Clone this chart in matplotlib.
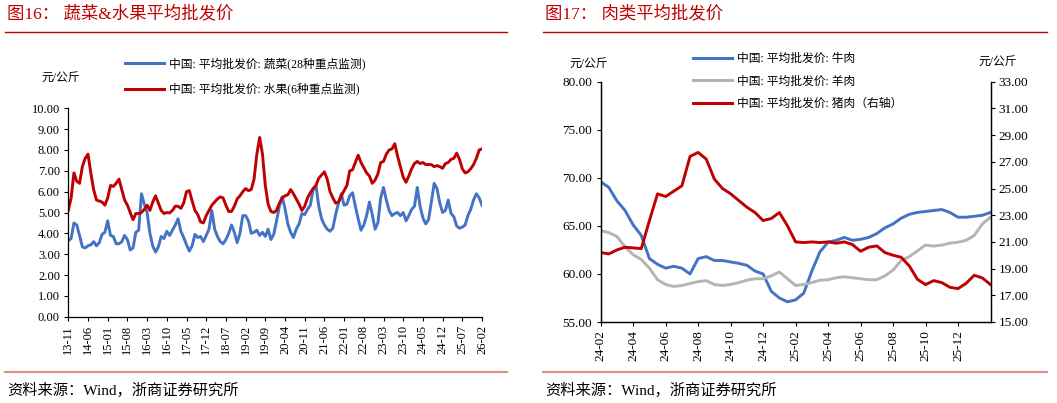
import matplotlib as mpl

mpl.use("Agg")
import matplotlib.pyplot as plt
import numpy as np
from matplotlib.lines import Line2D

plt.rcParams["font.family"] = ["Liberation Serif", "Noto Sans CJK SC"]
plt.rcParams["axes.unicode_minus"] = False

RED, BLUE, GREY = "#C00000", "#4472C4", "#B4B4B4"
RULE_TOP, RULE_BOT = "#C00000", "#E38A8A"

# ---- 图16: monthly readings from 2013-11 to 2026-02 (yuan/kg)
VEG = [3.65, 3.75, 4.5, 4.4, 3.9, 3.35, 3.3, 3.4, 3.45, 3.6, 3.4, 3.55, 3.95, 4.05, 4.6, 3.9, 3.85, 3.5,
       3.5, 3.6, 3.9, 3.7, 3.2, 3.3, 4.05, 4.15, 5.9, 5.4, 5.0, 4.0, 3.4, 3.1, 3.35, 3.85, 3.75, 4.1,
       3.9, 4.15, 4.4, 4.7, 4.1, 3.8, 3.45, 3.15, 3.4, 3.95, 3.8, 3.85, 3.6, 3.9, 4.2, 5.1, 4.2, 3.85,
       3.6, 3.5, 3.7, 4.0, 4.4, 4.05, 3.55, 4.0, 4.85, 4.85, 4.6, 4.0, 4.05, 4.15, 3.9, 4.05, 3.85, 4.2,
       3.7, 3.95, 4.6, 5.3, 5.75, 5.2, 4.45, 4.05, 3.8, 4.2, 4.45, 4.95, 4.9, 5.15, 5.35, 6.1, 6.3, 5.3,
       4.7, 4.4, 4.2, 4.1, 4.25, 4.9, 5.45, 5.9, 5.35, 5.4, 5.8, 5.95, 5.3, 4.7, 4.15, 4.4, 4.85, 5.5,
       4.9, 4.2, 4.5, 5.7, 6.2, 5.6, 5.1, 4.85, 4.95, 5.0, 4.85, 5.0, 4.6, 4.85, 5.15, 5.3, 6.2, 5.3,
       4.75, 4.45, 4.65, 5.5, 6.4, 6.15, 5.45, 5.0, 5.1, 5.6, 4.95, 4.8, 4.35, 4.25, 4.3, 4.4, 4.85, 5.15,
       5.6, 5.9, 5.7, 5.35]
FRUIT = [5.1, 5.7, 6.9, 6.5, 6.4, 7.2, 7.6, 7.8, 6.9, 6.1, 5.6, 5.55, 5.5, 5.35, 5.7, 6.3, 6.25, 6.4,
         6.6, 6.1, 5.6, 5.35, 5.0, 4.65, 4.95, 4.95, 5.0, 5.15, 5.35, 5.1, 5.5, 5.8, 5.45, 5.1, 4.95, 5.0,
         4.98, 5.1, 5.3, 5.3, 5.2, 5.45, 6.0, 6.05, 5.55, 5.1, 4.9, 4.55, 4.5, 4.85, 5.1, 5.35, 5.5, 5.65,
         5.75, 5.7, 5.35, 5.05, 5.05, 5.3, 5.65, 5.8, 6.0, 6.15, 6.05, 6.1, 6.6, 7.8, 8.6, 7.8, 6.3, 5.4,
         5.05, 5.0, 5.1, 5.45, 5.7, 5.8, 5.85, 6.1, 5.9, 5.65, 5.4, 5.1, 5.3, 5.7, 5.95, 6.15, 6.3, 6.65,
         6.8, 6.95, 6.6, 6.0, 5.7, 5.45, 5.5, 5.8, 6.05, 6.3, 7.0, 7.05, 7.4, 7.75, 7.4, 7.15, 6.9, 6.75,
         6.4, 6.55, 6.85, 7.4, 7.45, 7.8, 8.0, 8.05, 8.3, 7.7, 7.2, 6.7, 6.45, 6.75, 7.1, 7.35, 7.45, 7.35,
         7.4, 7.3, 7.3, 7.3, 7.2, 7.25, 7.2, 7.12, 7.35, 7.4, 7.55, 7.6, 7.85, 7.55, 7.1, 6.9, 6.95, 7.1,
         7.3, 7.6, 8.0, 8.05]
LEFT_XLABELS = ["13-11", "14-06", "15-01", "15-08", "16-03", "16-10", "17-05", "17-12", "18-07",
                "19-02", "19-09", "20-04", "20-11", "21-06", "22-01", "22-08", "23-03", "23-10",
                "24-05", "24-12", "25-07", "26-02"]

# ---- 图17: half-monthly readings from 2024-02 to 2026-02
BEEF = [69.6, 69.0, 67.6, 66.6, 65.1, 64.0, 61.6, 61.0, 60.6, 60.8, 60.6, 60.0, 61.6, 61.8, 61.4, 61.4,
        61.25, 61.1, 60.9, 60.3, 60.0, 58.2, 57.5, 57.1, 57.3, 58.0, 60.3, 62.3, 63.3, 63.5, 63.8, 63.5,
        63.6, 63.8, 64.2, 64.8, 65.2, 65.8, 66.2, 66.4, 66.5, 66.6, 66.7, 66.4, 65.9, 65.9, 66.0, 66.1, 66.4]
MUTTON = [64.5, 64.3, 63.9, 62.8, 62.0, 61.5, 60.6, 59.4, 58.9, 58.7, 58.8, 59.0, 59.2, 59.3, 58.9, 58.8,
          58.9, 59.1, 59.35, 59.5, 59.5, 59.8, 60.2, 59.5, 58.8, 58.9, 59.1, 59.35, 59.4, 59.6, 59.7, 59.6,
          59.5, 59.4, 59.4, 59.8, 60.4, 61.4, 61.8, 62.4, 63.0, 62.9, 63.0, 63.2, 63.3, 63.5, 64.0, 65.2, 65.9]
PORK = [20.2, 20.1, 20.4, 20.6, 20.55, 20.5, 22.6, 24.6, 24.4, 24.8, 25.2, 27.4, 27.7, 27.2, 25.7, 25.0,
        24.6, 24.1, 23.6, 23.2, 22.6, 22.75, 23.2, 22.2, 21.0, 20.95, 21.0, 20.95, 21.0, 20.9, 21.0, 20.8,
        20.3, 20.6, 20.7, 20.2, 20.0, 19.85, 19.2, 18.2, 17.8, 18.1, 17.95, 17.6, 17.5, 17.9, 18.5, 18.3, 17.8]
RIGHT_XLABELS = ["24-02", "24-04", "24-06", "24-08", "24-10", "24-12", "25-02", "25-04", "25-06",
                 "25-08", "25-10", "25-12"]

W, H = 1057, 403


def fx(px):
    return px / W


def fy(py):
    return 1 - py / H


def style_ticks(ax, size):
    ax.tick_params(direction="out", length=3, width=0.8, labelsize=size, pad=3)
    for sp in ax.spines.values():
        sp.set_linewidth(0.9)


fig = plt.figure(figsize=(W / 100, H / 100), dpi=100, facecolor="white")

# ---------------- left panel ----------------
axl = fig.add_axes([fx(68.3), fy(316.7), fx(482 - 68.3), (316.7 - 108.3) / H])
m = np.arange(len(VEG))
axl.plot(m, VEG, color=BLUE, lw=2.1)
axl.plot(m, FRUIT, color=RED, lw=2.1)
axl.set_xlim(0, len(VEG) - 1)
axl.set_ylim(0, 10)
axl.set_yticks(np.arange(0, 10.5, 1))
axl.set_yticklabels([f"{v:.2f}" for v in np.arange(0, 10.5, 1)])
axl.set_xticks(np.arange(0, len(VEG), 7))
axl.set_xticklabels(LEFT_XLABELS, rotation=90)
axl.spines[["top", "right"]].set_visible(False)
style_ticks(axl, 9)

fig.legend(
    [Line2D([], [], color=BLUE, lw=2.2), Line2D([], [], color=RED, lw=2.2)],
    ["中国: 平均批发价: 蔬菜(28种重点监测)", "中国: 平均批发价: 水果(6种重点监测)"],
    loc="upper left", bbox_to_anchor=(fx(125), fy(57)), bbox_transform=fig.transFigure,
    frameon=False, fontsize=8.5, handlelength=3.3, handletextpad=0.4, labelspacing=1.1,
    borderpad=0, borderaxespad=0,
)
fig.text(fx(61), fy(79), "元/公斤", fontsize=8.5, ha="center", va="center")

# ---------------- right panel ----------------
axr = fig.add_axes([fx(600.7), fy(322), fx(990.5 - 600.7), (322 - 81.7) / H])
t = np.arange(len(BEEF)) * 0.5
axr.plot(t, BEEF, color=BLUE, lw=2.1)
axr.plot(t, MUTTON, color=GREY, lw=2.1)
axr.set_xlim(0, t[-1])
axr.set_ylim(55, 80)
axr.set_yticks(np.arange(55, 81, 5))
axr.set_yticklabels([f"{v:.2f}" for v in np.arange(55, 81, 5)])
axr.set_xticks(np.arange(0, 23, 2))
axr.set_xticklabels(RIGHT_XLABELS, rotation=90)
axr.spines["top"].set_visible(False)
style_ticks(axr, 9.5)

axr2 = axr.twinx()
axr2.plot(t, PORK, color=RED, lw=2.1)
axr2.set_ylim(15, 33)
axr2.set_yticks(np.arange(15, 34, 2))
axr2.set_yticklabels([f"{v:.2f}" for v in np.arange(15, 34, 2)])
axr2.spines["top"].set_visible(False)
style_ticks(axr2, 9.5)

fig.legend(
    [Line2D([], [], color=BLUE, lw=2.2), Line2D([], [], color=GREY, lw=2.2),
     Line2D([], [], color=RED, lw=2.2)],
    ["中国: 平均批发价: 牛肉", "中国: 平均批发价: 羊肉", "中国: 平均批发价: 猪肉（右轴）"],
    loc="upper left", bbox_to_anchor=(fx(693), fy(53)), bbox_transform=fig.transFigure,
    frameon=False, fontsize=8.5, handlelength=3.3, handletextpad=0.4, labelspacing=0.9,
    borderpad=0, borderaxespad=0,
)
fig.text(fx(589), fy(65), "元/公斤", fontsize=8.5, ha="center", va="center")
fig.text(fx(998), fy(63), "元/公斤", fontsize=8.5, ha="center", va="center")

# ---------------- titles, rules, sources ----------------
for x0, x1, title in [(5, 507, "图16： 蔬菜&水果平均批发价"), (543, 1047, "图17： 肉类平均批发价")]:
    fig.text(fx(x0 + 2), fy(14), title, color=RED, fontsize=12.5, ha="left", va="center")
    fig.add_artist(Line2D([fx(x0), fx(x1)], [fy(32), fy(32)], color=RULE_TOP, lw=1.0))
    fig.add_artist(Line2D([fx(x0), fx(x1)], [fy(372), fy(372)], color=RULE_BOT, lw=1.5))
    fig.text(fx(x0 + 2), fy(390), "资料来源：Wind，浙商证券研究所", fontsize=11,
             ha="left", va="center")

fig.savefig("out.png", dpi=100, facecolor="white")
